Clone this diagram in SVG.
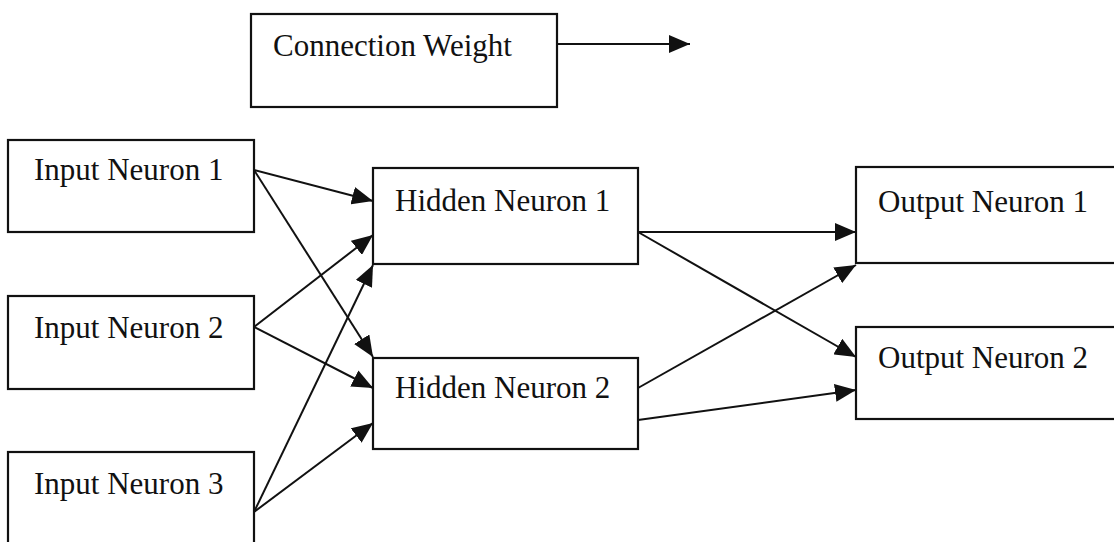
<svg xmlns="http://www.w3.org/2000/svg" width="1114" height="542" viewBox="0 0 1114 542">
  <style>
    .box { fill: #ffffff; stroke: #111111; stroke-width: 2.2; }
    .label { font-family: "Liberation Serif", "Times New Roman", serif; font-size: 31px; fill: #111111; }
    .edge { fill: none; stroke: #111111; stroke-width: 2; marker-end: url(#head); }
  </style>
  <defs>
    <marker id="head" markerUnits="userSpaceOnUse" markerWidth="24" markerHeight="18" refX="21" refY="9" orient="auto">
      <path d="M0,0 L21,9 L0,18 Z" fill="#111111"/>
    </marker>
  </defs>
  <rect width="1114" height="542" fill="#ffffff"/>

  <!-- legend -->
  <g id="legend">
    <rect class="box" x="251" y="14" width="306" height="93"/>
    <text class="label" x="273" y="56">Connection Weight</text>
    <line class="edge" x1="557" y1="44" x2="690" y2="44"/>
  </g>

  <!-- input layer -->
  <g id="input1">
    <rect class="box" x="8" y="140" width="246" height="92"/>
    <text class="label" x="34" y="180">Input Neuron 1</text>
  </g>
  <g id="input2">
    <rect class="box" x="8" y="296" width="246" height="93"/>
    <text class="label" x="34" y="338">Input Neuron 2</text>
  </g>
  <g id="input3">
    <rect class="box" x="8" y="452" width="246" height="100"/>
    <text class="label" x="34" y="494">Input Neuron 3</text>
  </g>

  <!-- hidden layer -->
  <g id="hidden1">
    <rect class="box" x="373" y="168" width="265" height="96"/>
    <text class="label" x="395" y="211">Hidden Neuron 1</text>
  </g>
  <g id="hidden2">
    <rect class="box" x="373" y="358" width="265" height="91"/>
    <text class="label" x="395" y="398">Hidden Neuron 2</text>
  </g>

  <!-- output layer -->
  <g id="output1">
    <rect class="box" x="856" y="167" width="270" height="96"/>
    <text class="label" x="878" y="212">Output Neuron 1</text>
  </g>
  <g id="output2">
    <rect class="box" x="856" y="327" width="270" height="92"/>
    <text class="label" x="878" y="368">Output Neuron 2</text>
  </g>

  <!-- weighted connections -->
  <g id="connections">
    <line class="edge" x1="254" y1="170" x2="373" y2="201"/>
    <line class="edge" x1="254" y1="170" x2="373" y2="357"/>
    <line class="edge" x1="254" y1="327" x2="373" y2="235"/>
    <line class="edge" x1="254" y1="327" x2="373" y2="388"/>
    <line class="edge" x1="254" y1="512" x2="373" y2="265"/>
    <line class="edge" x1="254" y1="512" x2="373" y2="423"/>
    <line class="edge" x1="638" y1="232" x2="856" y2="232"/>
    <line class="edge" x1="638" y1="232" x2="856" y2="357"/>
    <line class="edge" x1="638" y1="388" x2="856" y2="265"/>
    <line class="edge" x1="638" y1="420" x2="856" y2="390"/>
  </g>
</svg>
